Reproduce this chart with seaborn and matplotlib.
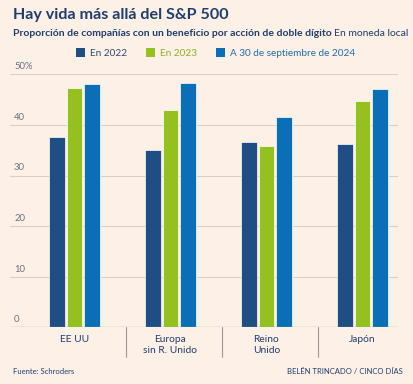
import seaborn as sns
import pandas as pd
import matplotlib
matplotlib.use("Agg")
import matplotlib.pyplot as plt
from matplotlib.patches import Patch

# data
regiones = ["EE UU", "Europa\nsin R. Unido", "Reino\nUnido", "Japón"]
series = ["En 2022", "En 2023", "A 30 de septiembre de 2024"]
v2022 = [37.7, 35.1, 36.6, 36.2]
v2023 = [47.3, 42.9, 35.9, 44.7]
v2024 = [48.1, 48.3, 41.6, 47.0]
yticks = [0, 10, 20, 30, 40, 50]
ylabels = ["0", "10", "20", "30", "40", "50%"]

colores = ["#1f4e85", "#95c11f", "#0a6fb7"]
fondo = "#fdf0e6"
azul_osc = "#1f3f6e"

df = pd.DataFrame({
    "Region": regiones * 3,
    "Serie": [series[0]] * 4 + [series[1]] * 4 + [series[2]] * 4,
    "Valor": v2022 + v2023 + v2024,
})

sns.set_theme(style="white")
plt.rcParams["font.family"] = ["Lato", "DejaVu Sans"]

fig = plt.figure(figsize=(4.14, 3.84), dpi=100, facecolor=fondo)
ax = fig.add_axes([10 / 414, 1 - 327.3 / 384, 388 / 414, 253 / 384])
ax.set_facecolor(fondo)

sns.barplot(data=df, x="Region", y="Valor", hue="Serie", palette=colores,
            saturation=1, width=0.54, gap=0.08, edgecolor="white", linewidth=0.5,
            legend=False, ax=ax, zorder=3)

ax.set_ylim(0, 50)
ax.set_xlim(-0.672, 3.37)
for s in ax.spines.values():
    s.set_visible(False)
ax.set_yticks([])
ax.set_xticks([])
ax.set_xlabel("")
ax.set_ylabel("")

# gridlines and in-plot y labels
for t, lab in zip(yticks, ylabels):
    if t == 0:
        ax.axhline(0, color="#9a9a9a", lw=0.9, zorder=4)
    else:
        ax.axhline(t, color="#d9cfc6", lw=0.8, zorder=1)
    ax.text(-0.63, t + 0.6, lab, fontsize=6.8, color="#6b7280",
            ha="left", va="bottom")

# category labels and separators
for i, r in enumerate(regiones):
    ax.text(i, -1.6, r, fontsize=7.4, color=azul_osc, ha="center", va="top",
            linespacing=1.25, clip_on=False)
for i in range(3):
    ax.plot([i + 0.536, i + 0.536], [0, -5.9], color="#9a9a9a", lw=0.8,
            clip_on=False)

# title block
fig.text(13 / 414, 1 - 15 / 384, "Hay vida más allá del S&P 500",
         fontsize=11.6, fontweight="bold", color=azul_osc, va="center")
t1 = fig.text(13 / 414, 1 - 33 / 384,
              "Proporción de compañías con un beneficio por acción de doble dígito",
              fontsize=7.45, fontweight="bold", color=azul_osc, va="center")
fig.canvas.draw()
bb = t1.get_window_extent()
fig.text(bb.x1 / 414 + 2 / 414, 1 - 33 / 384, "En moneda local",
         fontsize=7.45, color=azul_osc, va="center")

# legend
handles = [Patch(facecolor=c, edgecolor="none") for c in colores]
fig.legend(handles, series, loc="center", bbox_to_anchor=(216 / 414, 1 - 53 / 384),
           ncol=3, frameon=False, fontsize=7.2, handlelength=0.9, handleheight=0.9,
           handletextpad=0.5, columnspacing=1.9,
           labelcolor=["#2c4a6e", "#8ab31c", "#1f6fb0"])

# footer
fig.text(13 / 414, 1 - 372 / 384, "Fuente: Schroders", fontsize=5.5,
         color=azul_osc, va="center")
fig.text(403 / 414, 1 - 372 / 384, "BELÉN TRINCADO / CINCO DÍAS", fontsize=5.5,
         color=azul_osc, va="center", ha="right")

fig.savefig("out.png", dpi=100, facecolor=fondo)
